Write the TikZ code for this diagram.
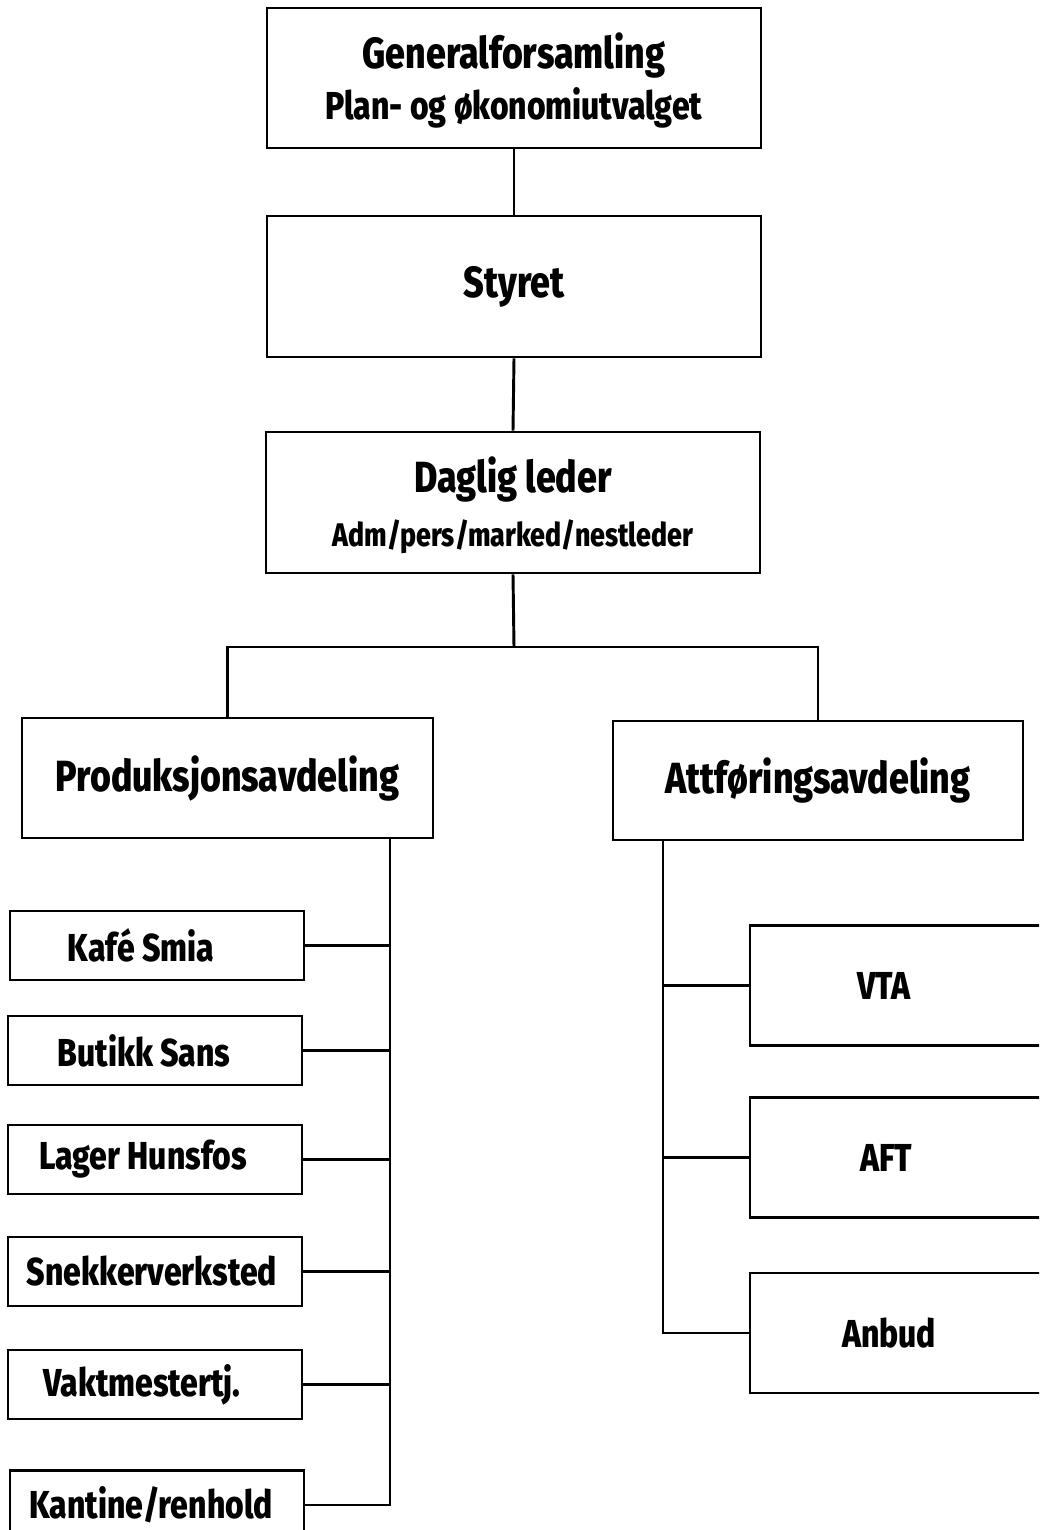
\documentclass[tikz,border=0pt]{standalone}
\usepackage{fontspec}
\newfontfamily\lab{Fira Sans ExtraBold}[FakeStretch=0.82]
\newcommand\bigf{\lab\fontsize{32.7}{36}\selectfont}
\newcommand\midf{\lab\fontsize{29.2}{33}\selectfont}
\newcommand\smf{\lab\fontsize{24.5}{28}\selectfont}
\begin{document}
\begin{tikzpicture}[x=0.75pt,y=-0.75pt,
  box/.style={draw,line width=2.2pt,inner sep=0pt,anchor=center},
  big/.style={font=\bigf},
  mid/.style={font=\midf},
  ln/.style={line width=2.2pt}]
\useasboundingbox (0,0) rectangle (1039,1530);
\clip (0,0) rectangle (1039,1530);
% top boxes
\node[box,minimum width=494*0.75pt,minimum height=140*0.75pt,align=center] (gen) at (514,78)
  {{\bigf\rule{0pt}{30pt}Generalforsamling}\\[6pt]{\midf Plan- og økonomiutvalget}};
\node[box,big,minimum width=494*0.75pt,minimum height=141*0.75pt] (sty) at (514,286.5) {Styret};
\node[box,minimum width=494*0.75pt,minimum height=141*0.75pt,align=center] (dag) at (513,502.5)
  {{\bigf\rule{0pt}{31pt}Daglig leder}\\[12pt]{\smf Adm/pers/marked/nestleder}};
\node[box,big,minimum width=411*0.75pt,minimum height=120*0.75pt] (prod) at (227.5,778) {Produksjonsavdeling};
\node[box,big,minimum width=410*0.75pt,minimum height=119*0.75pt] (att) at (818,780.5) {Attføringsavdeling};
% left small boxes
\foreach \n/\cx/\cy/\tx/\t in {kafe/157/945.5/141/{Kafé Smia}, butikk/155/1050.5/144/{Butikk Sans},
   lager/155/1159.5/143/{Lager Hunsfos}, snekker/155/1271.5/152/{Snekkerverksted},
   vakt/155/1384.5/142/{Vaktmestertj.}, kantine/157/1505/151/{Kantine/renhold}}{
  \node[box,minimum width=294*0.75pt,minimum height=69*0.75pt] (\n) at (\cx,\cy) {};
  \node[mid] (\n t) at (\tx,\cy) {\t};
}
% right boxes
\foreach \n/\cy/\tx/\t in {vta/985.5/884/VTA, aft/1157.5/886/AFT, anbud/1333/889/Anbud}{
  \node[box,minimum width=320*0.75pt,minimum height=120*0.75pt] (\n) at (910,\cy) {};
  \node[mid] (\n t) at (\tx,\cy) {\t};
}
% connectors
\draw[ln] (gen.south) -- (sty.north);
\draw[ln] (sty.south) -- (dag.north);
\coordinate (j) at (514,647);
\draw[ln] (dag.south) -- (j);
\draw[ln] (prod.north) |- (j) -| (att.north);
\coordinate (ps) at (390,838);
\draw[ln] (ps) |- (kantine.east);
\foreach \n in {kafe,butikk,lager,snekker,vakt}{
  \draw[ln] (\n.east) -- (\n.east -| ps);
}
\coordinate (as) at (663,840);
\draw[ln] (as) |- (anbud.west);
\foreach \n in {vta,aft}{
  \draw[ln] (\n.west) -- (\n.west -| as);
}
\end{tikzpicture}
\end{document}
